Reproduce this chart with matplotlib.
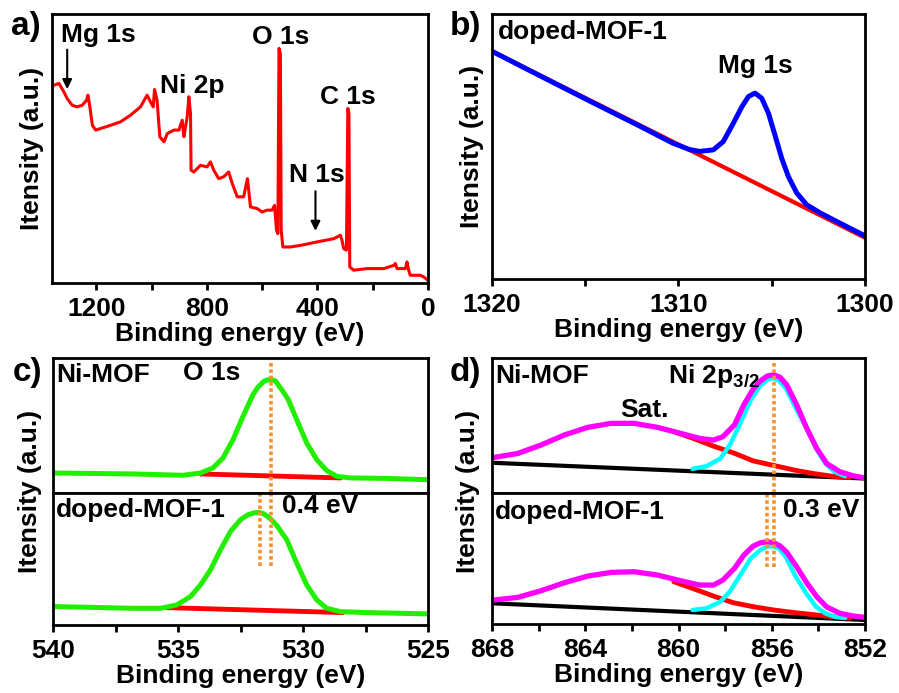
import matplotlib
matplotlib.use("Agg")
import matplotlib.pyplot as plt
from matplotlib.ticker import MultipleLocator

plt.rcParams['font.family'] = ['Liberation Sans', 'DejaVu Sans']
plt.rcParams['font.weight'] = 'bold'
plt.rcParams['axes.linewidth'] = 2
plt.rcParams['lines.solid_joinstyle'] = 'round'
plt.rcParams['lines.solid_capstyle'] = 'round'

# a) survey spectrum (read from picture)
survey_ev = [1353, 1335, 1317, 1305, 1287, 1269, 1251, 1235, 1230, 1223, 1214, 1202, 1184,
             1148, 1112, 1076, 1040, 1016, 1004, 994, 989, 980, 970, 955, 943, 919, 901,
             889, 883, 877, 871, 865, 859, 857, 847, 823, 799, 787, 775, 757, 739, 721,
             708, 690, 667, 653, 642, 618, 600, 582, 564, 555, 548, 543, 539, 534, 531,
             525, 498, 461, 401, 341, 317, 311, 305, 295, 290, 286, 283, 269, 220, 160,
             124, 118, 112, 82, 76, 70, 64, 28, 16, 0]
survey_int = [74.1, 74.8, 71.6, 69.1, 66.6, 66.0, 66.6, 68.5, 70.4, 66.0, 59.1, 57.3, 57.9,
              59.1, 60.4, 62.9, 66.0, 70.4, 67.9, 66.0, 72.5, 68.5, 54.8, 52.9, 56.0, 57.3, 57.3,
              61.0, 54.8, 58.5, 62.3, 69.8, 63.5, 42.3, 41.6, 44.1, 43.5, 45.4, 42.3, 39.1, 39.8, 41.6,
              37.3, 32.3, 32.3, 39.1, 28.5, 27.9, 26.6, 27.3, 27.3, 29.1, 19.8, 18.5, 87.9, 86.0, 19.8,
              13.5, 13.5, 14.1, 15.4, 16.6, 17.9, 16.0, 12.9, 12.3, 65.4, 63.5, 6.0, 4.8, 5.4, 5.4,
              6.6, 7.3, 5.4, 5.4, 7.9, 4.8, 2.9, 2.9, 2.3, 1.0]

# b) Mg 1s
mg_ev = [1320.0, 1317.4, 1314.7, 1312.05, 1310.3, 1309.4, 1308.86, 1308.13, 1307.6, 1307.06,
         1306.6, 1306.25, 1305.9, 1305.54, 1305.18, 1304.83, 1304.47, 1304.11, 1303.66,
         1303.13, 1302.4, 1301.35, 1300.0]
mg_int = [85.5, 76.2, 66.6, 57.3, 51.0, 48.6, 47.9, 48.5, 51.6, 58.5, 64.7, 68.5, 69.8, 67.9,
          62.3, 54.1, 45.4, 38.5, 32.3, 27.9, 24.8, 21.0, 16.2]
mg_bg_ev = [1320, 1300]
mg_bg_int = [85.5, 15.5]

# c) O 1s
o_ni_ev = [539.93, 536.8, 534.8, 534.1, 533.6, 533.2, 532.8, 532.4, 532.0, 531.8, 531.55,
           531.3, 531.1, 530.85, 530.6, 530.25, 529.85, 529.45, 529.05, 528.65, 528.1,
           526.8, 525.0]
o_ni_int = [15.0, 14.3, 13.3, 15.0, 18.8, 26.3, 40.0, 57.5, 73.8, 79.5, 84.0, 85.5, 84.0,
            77.5, 70.5, 55.0, 37.5, 25.0, 16.8, 12.5, 11.3, 11.0, 10.0]
o_ni_bg_ev = [534.1, 528.5]
o_ni_bg_int = [14.3, 11.3]
o_dp_ev = [539.93, 536.8, 535.7, 535.05, 534.5, 534.1, 533.7, 533.3, 532.9, 532.5, 532.2,
           531.95, 531.75, 531.55, 531.3, 531.05, 530.65, 530.25, 529.85, 529.45, 529.05,
           528.5, 527.45, 525.0]
o_dp_int = [13.8, 12.5, 12.5, 15.0, 21.3, 30.0, 41.3, 56.3, 70.0, 78.8, 82.5, 84.0, 84.3,
            83.0, 79.5, 74.5, 63.8, 46.3, 30.0, 18.8, 12.5, 10.0, 9.3, 8.3]
o_dp_bg_ev = [535.45, 528.4]
o_dp_bg_int = [13.0, 9.3]
o_peaks = [531.3, 531.7]

# d) Ni 2p
ni_bg_ev = [867.9, 852.0]
ni_ni_bg = [22.5, 10.8]
ni_dp_bg = [15.5, 3.0]
env_ev = [867.93, 866.9, 865.9, 864.9, 863.9, 862.9, 861.9, 860.9, 859.9, 859.1, 858.5,
          858.1, 857.6, 857.2, 856.8, 856.5, 856.2, 855.93, 855.65, 855.36, 854.93, 854.5,
          854.07, 853.64, 853.07, 852.5, 852.0]
ni_ni_env = [26.5, 29.5, 35.8, 43.3, 49.0, 52.0, 52.0, 49.0, 44.5, 40.8, 39.5, 42.0, 50.8,
             65.8, 77.5, 83.5, 87.3, 88.3, 86.5, 80.8, 65.8, 48.3, 33.3, 22.0, 15.8, 12.8, 11.2]
ni_dp_env = [18.0, 20.0, 25.0, 31.0, 36.0, 38.8, 39.3, 36.8, 32.5, 29.3, 29.3, 33.0, 41.8,
             51.8, 58.5, 61.0, 61.8, 61.3, 58.8, 54.0, 43.0, 31.0, 20.5, 12.8, 8.0, 6.0, 5.0]
main_ev = [859.4, 858.8, 858.2, 857.8, 857.35, 856.9, 856.5, 856.2, 855.95, 855.7, 855.4,
           855.0, 854.5, 854.1, 853.7, 853.3, 852.85]
ni_ni_main = [18.0, 20.0, 25.8, 35.8, 52.0, 69.5, 80.0, 84.5, 85.8, 84.0, 78.3, 64.5, 48.3,
              33.3, 22.0, 15.8, 12.5]
ni_dp_main = [10.5, 11.8, 16.8, 24.3, 36.8, 49.3, 55.5, 58.3, 58.5, 57.0, 50.5, 36.5, 22.5,
              13.0, 8.0, 5.5, 4.5]
sat_ev = [860.2, 859.4, 858.5, 857.65, 856.8, 855.9, 855.0, 854.2, 853.4, 852.65]
ni_ni_sat = [45.8, 41.0, 35.0, 30.0, 24.0, 20.5, 17.0, 14.5, 12.5, 11.5]
ni_dp_sat = [31.8, 26.8, 21.0, 16.0, 13.0, 10.5, 8.5, 7.0, 5.5, 4.5]
ni_peaks = [855.9, 856.2]

W, H = 899, 693
fig = plt.figure(figsize=(W / 100, H / 100), dpi=100)

ORANGE = '#f5922a'
DOT = (0, (1.0, 0.75))
DLW = 2.6


def box(l, t, r, b):
    return [l / W, 1 - b / H, (r - l) / W, (b - t) / H]


def style(ax, xlim, major, minor, bottom=True):
    ax.set_xlim(*xlim)
    ax.set_yticks([])
    ax.xaxis.set_major_locator(MultipleLocator(major))
    ax.xaxis.set_minor_locator(MultipleLocator(minor))
    ax.tick_params(axis='x', which='both', direction='out', length=5, width=2,
                   labelsize=19, pad=5, top=False)
    if not bottom:
        ax.tick_params(axis='x', which='both', length=0, labelbottom=False)
    for lbl in ax.get_xticklabels():
        lbl.set_fontweight('bold')


TF = dict(fontsize=19, fontweight='bold')
LF = dict(fontsize=19, fontweight='bold')

# ---- a)
ax = fig.add_axes(box(52, 14, 428, 283))
ax.plot(survey_ev, survey_int, color='#ff0000', lw=2.2)
style(ax, (1360, 0), 400, 200)
ax.set_ylim(0, 100.8)
ax.set_xlabel('Binding energy (eV)', labelpad=1, **LF)
ax.set_ylabel('Itensity (a.u.)', labelpad=6, **LF)
ax.text(1329, 92.9, 'Mg 1s', va='center', **TF)
ax.text(636, 92.3, 'O 1s', va='center', **TF)
ax.text(970, 74, 'Ni 2p', va='center', **TF)
ax.text(389, 69.8, 'C 1s', va='center', **TF)
ax.text(504, 40.4, 'N 1s', va='center', **TF)
ax.annotate('', xy=(1305, 71.6), xytext=(1305, 88.5),
            arrowprops=dict(arrowstyle='-|>', color='k', lw=1.5, mutation_scale=14))
ax.annotate('', xy=(407, 18.5), xytext=(407, 35.4),
            arrowprops=dict(arrowstyle='-|>', color='k', lw=1.5, mutation_scale=14))

# ---- b)
ax = fig.add_axes(box(492, 14, 865, 279))
ax.plot(mg_bg_ev, mg_bg_int, color='#ff0000', lw=3)
ax.plot(mg_ev, mg_int, color='#0000ff', lw=3.6)
style(ax, (1320, 1300), 10, 5)
ax.set_ylim(0, 99.5)
ax.set_xlabel('Binding energy (eV)', labelpad=1, **LF)
ax.set_ylabel('Itensity (a.u.)', labelpad=6, **LF)
ax.text(1319.7, 92.9, 'doped-MOF-1', va='center', **TF)
ax.text(1307.9, 79.8, 'Mg 1s', va='center', **TF)

# ---- c)
ax1 = fig.add_axes(box(53, 358, 428, 493))
ax2 = fig.add_axes(box(53, 493, 428, 625))
ax1.plot(o_ni_bg_ev, o_ni_bg_int, color='#ff0000', lw=3.5)
ax1.plot(o_ni_ev, o_ni_int, color='#22ee00', lw=3.6)
ax1.plot([o_peaks[0]] * 2, [0, 97.5], color=ORANGE, lw=DLW, ls=DOT, dash_capstyle='butt')
ax1.set_ylim(0, 101.3)
ax2.plot(o_dp_bg_ev, o_dp_bg_int, color='#ff0000', lw=3.5)
ax2.plot(o_dp_ev, o_dp_int, color='#22ee00', lw=3.6)
for p in o_peaks:
    ax2.plot([p, p], [43.8, 98.8], color=ORANGE, lw=DLW, ls=DOT, dash_capstyle='butt')
ax2.set_ylim(0, 98.8)
style(ax1, (540, 525), 5, 2.5, bottom=False)
style(ax2, (540, 525), 5, 2.5)
ax2.set_xlabel('Binding energy (eV)', labelpad=1, **LF)
ax1.text(539.87, 88.8, 'Ni-MOF', va='center', **TF)
ax1.text(534.8, 90, 'O 1s', va='center', **TF)
ax2.text(539.87, 86.3, 'doped-MOF-1', va='center', **TF)
ax2.text(530.85, 88.8, '0.4 eV', va='center', **TF)
fig.text(30 / W, 1 - 491 / H, 'Itensity (a.u.)', rotation=90, ha='center', va='center', **LF)

# ---- d)
ax1 = fig.add_axes(box(492, 358, 865, 493))
ax2 = fig.add_axes(box(492, 493, 865, 624))
for a, bg, sat, main, env in ((ax1, ni_ni_bg, ni_ni_sat, ni_ni_main, ni_ni_env),
                              (ax2, ni_dp_bg, ni_dp_sat, ni_dp_main, ni_dp_env)):
    a.plot(ni_bg_ev, bg, color='k', lw=3)
    a.plot(sat_ev, sat, color='#ff0000', lw=3.5)
    a.plot(main_ev, main, color='#00ffff', lw=3.2)
    a.plot(env_ev, env, color='#ff00ff', lw=3.8)
ax1.plot([ni_peaks[0]] * 2, [0, 97], color=ORANGE, lw=DLW, ls=DOT, dash_capstyle='butt')
for p in ni_peaks:
    ax2.plot([p, p], [43, 98.5], color=ORANGE, lw=DLW, ls=DOT, dash_capstyle='butt')
ax1.set_ylim(0, 100.8)
ax2.set_ylim(0, 98.5)
style(ax1, (868, 852), 4, 2, bottom=False)
style(ax2, (868, 852), 4, 2)
ax2.set_xlabel('Binding energy (eV)', labelpad=1, **LF)
ax1.text(867.86, 87, 'Ni-MOF', va='center', **TF)
ax1.text(860.46, 87, r'Ni 2p$_\mathregular{3/2}$', va='center', **TF)
ax1.text(862.5, 62, 'Sat.', va='center', **TF)
ax2.text(867.86, 84.3, 'doped-MOF-1', va='center', **TF)
ax2.text(855.5, 85.5, '0.3 eV', va='center', **TF)
fig.text(468 / W, 1 - 491 / H, 'Itensity (a.u.)', rotation=90, ha='center', va='center', **LF)

# panel letters
for x, y, s in ((26, 27, 'a)'), (465, 27, 'b)'), (27, 373, 'c)'), (465, 373, 'd)')):
    fig.text(x / W, 1 - y / H, s, ha='center', va='center', fontsize=24, fontweight='bold')

fig.savefig('out.png', dpi=100)
